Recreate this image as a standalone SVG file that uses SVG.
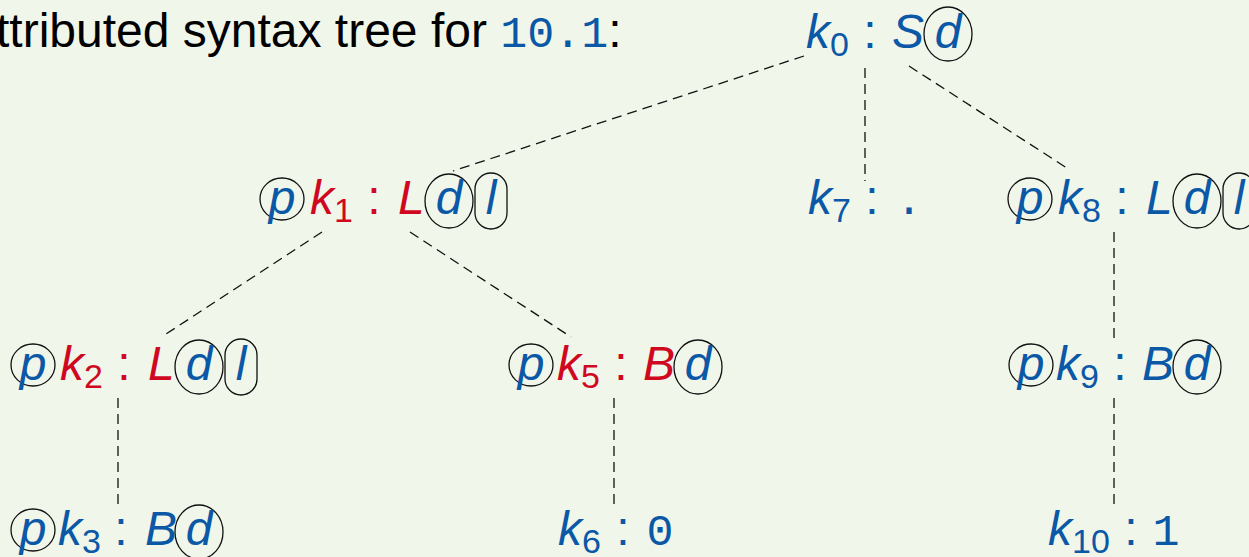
<svg xmlns="http://www.w3.org/2000/svg" width="1249" height="557" viewBox="0 0 1249 557">
<style>
text{font-family:"Liberation Sans",Arial,sans-serif;font-size:48px}
.m{font-style:italic}
.b{fill:#0a58a6}
.r{fill:#d0081f}
.s{font-size:34px;font-style:normal}
.c{text-anchor:middle;font-style:normal}
.mid{text-anchor:middle}
.tt{font-family:"Liberation Mono","DejaVu Sans Mono",monospace;font-size:45px}
.o{fill:none;stroke:#111;stroke-width:1.3}
#edges line{stroke:#111;stroke-width:1.3;stroke-dasharray:10 6;fill:none}
</style>
<rect width="1249" height="557" fill="#f1f6eb"/>
<text x="-36" y="47" fill="#000">Attributed syntax tree for <tspan class="tt b">10.1</tspan>:</text>
<g id="edges">
<line x1="804" y1="56" x2="453" y2="171"/>
<line x1="865" y1="68" x2="865" y2="181"/>
<line x1="909" y1="66" x2="1070" y2="170"/>
<line x1="322" y1="232" x2="163" y2="336"/>
<line x1="410" y1="232" x2="571" y2="337"/>
<line x1="118" y1="398" x2="118" y2="505"/>
<line x1="614" y1="398" x2="614" y2="505"/>
<line x1="1114" y1="232" x2="1114" y2="340"/>
<line x1="1114" y1="398" x2="1114" y2="505"/>
</g>
<g id="k0">
<text x="806" y="48" class="m b">k</text><text x="830" y="56" class="s b">0</text>
<text x="870" y="48" class="c b">:</text>
<text x="892" y="48" class="m b">S</text>
<ellipse cx="948" cy="34" rx="24" ry="27" class="o"/>
<text x="948" y="48" class="m b mid">d</text>
</g>
<g id="k1">
<ellipse cx="282" cy="199" rx="22" ry="21" class="o"/>
<text x="282" y="214" class="m b mid">p</text>
<text x="310" y="214" class="m r">k</text><text x="334" y="222" class="s r">1</text>
<text x="374" y="214" class="c r">:</text>
<text x="398" y="214" class="m r">L</text>
<ellipse cx="449" cy="201" rx="24" ry="27" class="o"/>
<text x="449" y="214" class="m b mid">d</text>
<rect x="475" y="173" width="32" height="56" rx="16" ry="16" class="o"/>
<text x="491" y="214" class="m b mid">l</text>
</g>
<g id="k7">
<text x="808" y="214" class="m b">k</text><text x="832" y="222" class="s b">7</text>
<text x="872" y="214" class="c b">:</text>
<text x="909" y="214" class="c b tt">.</text>
</g>
<g id="k8">
<ellipse cx="1030" cy="199" rx="22" ry="21" class="o"/>
<text x="1030" y="214" class="m b mid">p</text>
<text x="1058" y="214" class="m b">k</text><text x="1082" y="222" class="s b">8</text>
<text x="1122" y="214" class="c b">:</text>
<text x="1146" y="214" class="m b">L</text>
<ellipse cx="1197" cy="201" rx="24" ry="27" class="o"/>
<text x="1197" y="214" class="m b mid">d</text>
<rect x="1223" y="173" width="32" height="56" rx="16" ry="16" class="o"/>
<text x="1239" y="214" class="m b mid">l</text>
</g>
<g id="k2">
<ellipse cx="33" cy="365" rx="22" ry="21" class="o"/>
<text x="33" y="380" class="m b mid">p</text>
<text x="60" y="380" class="m r">k</text><text x="84" y="388" class="s r">2</text>
<text x="124" y="380" class="c r">:</text>
<text x="148" y="380" class="m r">L</text>
<ellipse cx="199" cy="367" rx="24" ry="27" class="o"/>
<text x="199" y="380" class="m b mid">d</text>
<rect x="225" y="339" width="32" height="56" rx="16" ry="16" class="o"/>
<text x="241" y="380" class="m b mid">l</text>
</g>
<g id="k5">
<ellipse cx="531" cy="365" rx="22" ry="21" class="o"/>
<text x="531" y="380" class="m b mid">p</text>
<text x="557" y="380" class="m r">k</text><text x="581" y="388" class="s r">5</text>
<text x="621" y="380" class="c r">:</text>
<text x="643" y="380" class="m r">B</text>
<ellipse cx="698" cy="367" rx="24" ry="27" class="o"/>
<text x="698" y="380" class="m b mid">d</text>
</g>
<g id="k9">
<ellipse cx="1031" cy="365" rx="22" ry="21" class="o"/>
<text x="1031" y="380" class="m b mid">p</text>
<text x="1056" y="380" class="m b">k</text><text x="1080" y="388" class="s b">9</text>
<text x="1120" y="380" class="c b">:</text>
<text x="1142" y="380" class="m b">B</text>
<ellipse cx="1197" cy="367" rx="24" ry="27" class="o"/>
<text x="1197" y="380" class="m b mid">d</text>
</g>
<g id="k3">
<ellipse cx="33" cy="530" rx="22" ry="21" class="o"/>
<text x="33" y="545" class="m b mid">p</text>
<text x="58" y="545" class="m b">k</text><text x="82" y="553" class="s b">3</text>
<text x="121" y="545" class="c b">:</text>
<text x="145" y="545" class="m b">B</text>
<ellipse cx="199" cy="532" rx="24" ry="27" class="o"/>
<text x="199" y="545" class="m b mid">d</text>
</g>
<g id="k6">
<text x="558" y="545" class="m b">k</text><text x="582" y="553" class="s b">6</text>
<text x="623" y="545" class="c b">:</text>
<text x="660" y="545" class="c b tt">0</text>
</g>
<g id="k10">
<text x="1048" y="545" class="m b">k</text><text x="1072" y="553" class="s b">10</text>
<text x="1131" y="545" class="c b">:</text>
<text x="1166" y="545" class="c b tt">1</text>
</g>
</svg>
